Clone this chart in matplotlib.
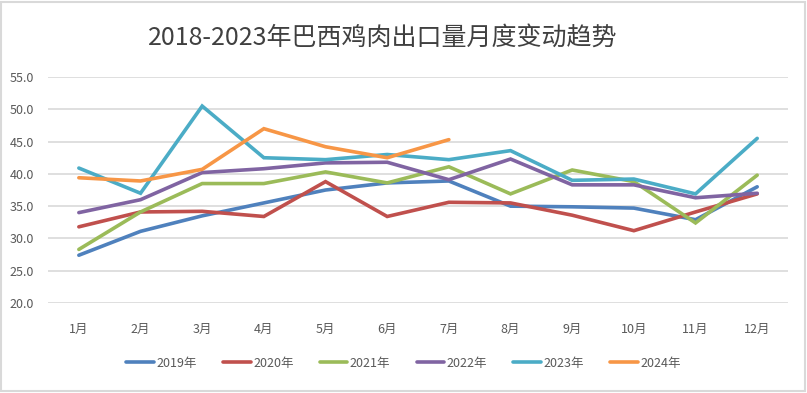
# Brazil chicken export monthly trend, line chart
import matplotlib.pyplot as plt
from matplotlib.patches import Rectangle

plt.rcParams['font.family'] = ['Noto Sans CJK SC', 'DejaVu Sans']

# data
months = ['1月', '2月', '3月', '4月', '5月', '6月', '7月', '8月', '9月', '10月', '11月', '12月']
y2019 = [27.4, 31.1, 33.5, 35.5, 37.5, 38.6, 38.9, 35.0, 34.9, 34.7, 32.9, 38.0]
y2020 = [31.8, 34.1, 34.2, 33.4, 38.8, 33.4, 35.6, 35.5, 33.6, 31.2, 34.1, 36.9]
y2021 = [28.3, 34.1, 38.5, 38.5, 40.3, 38.6, 41.1, 36.9, 40.6, 38.8, 32.4, 39.8]
y2022 = [34.0, 36.0, 40.2, 40.8, 41.7, 41.8, 39.1, 42.3, 38.3, 38.3, 36.3, 37.0]
y2023 = [40.9, 37.0, 50.5, 42.5, 42.2, 43.0, 42.2, 43.6, 39.0, 39.2, 36.9, 45.5]
y2024 = [39.4, 38.9, 40.7, 47.0, 44.2, 42.5, 45.3]

series = [('2019年', y2019, '#4F81BD'),
          ('2020年', y2020, '#C0504D'),
          ('2021年', y2021, '#9BBB59'),
          ('2022年', y2022, '#8064A2'),
          ('2023年', y2023, '#4BACC6'),
          ('2024年', y2024, '#F79646')]

fig = plt.figure(figsize=(8.07, 3.93), dpi=100)
ax = fig.add_axes([0.0595, 0.229, 0.917, 0.575])

for name, vals, col in series:
    ax.plot(range(len(vals)), vals, color=col, lw=2.6, label=name,
            solid_capstyle='round', solid_joinstyle='miter')

ax.set_xlim(-0.5, 11.5)
ax.set_ylim(20, 55)
ax.set_yticks(range(20, 56, 5))
ax.set_yticklabels(['%.1f' % v for v in range(20, 56, 5)])
ax.set_xticks(range(12))
ax.set_xticklabels(months)
ax.tick_params(axis='both', length=0, colors='#595959', labelsize=9)
ax.tick_params(axis='x', pad=14)
ax.tick_params(axis='y', pad=10)
ax.yaxis.grid(True, color='#D9D9D9', lw=1.2)
ax.set_axisbelow(True)
for s in ax.spines.values():
    s.set_visible(False)

fig.text(0.474, 0.903, '2018-2023年巴西鸡肉出口量月度变动趋势', ha='center', va='center',
         fontsize=18, color='#404040', fontweight='medium')

fig.legend(loc='center', bbox_to_anchor=(0.5, 0.076), ncol=6, frameon=False,
           fontsize=9, handlelength=2.2, columnspacing=2.1, handletextpad=0.2,
           labelcolor='#595959')

fig.patches.append(Rectangle((0.001, 0.006), 0.996, 0.99, transform=fig.transFigure,
                             fill=False, edgecolor='#D9D9D9', lw=1.5))

fig.savefig('out.png', dpi=100)
